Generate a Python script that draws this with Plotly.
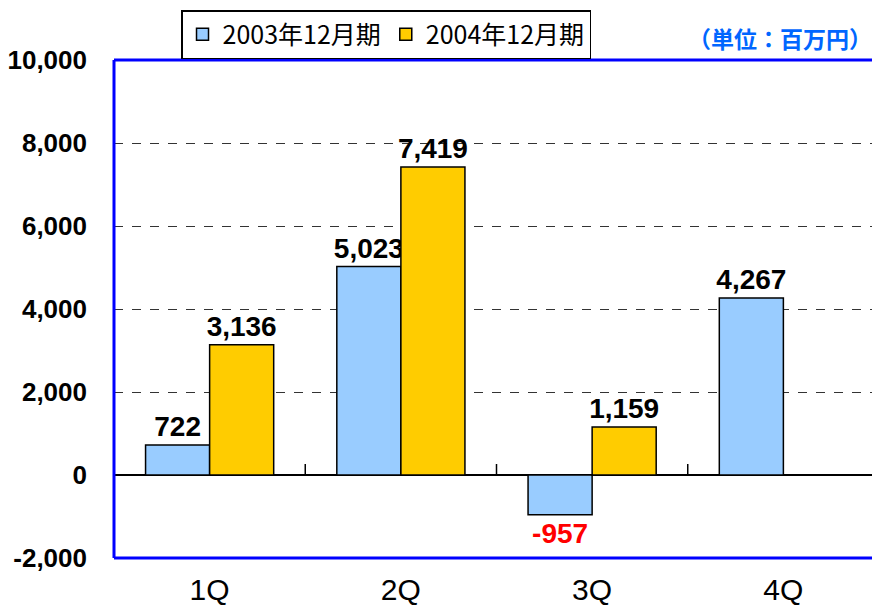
import plotly.graph_objects as go

categories = ["1Q", "2Q", "3Q", "4Q"]
series_names = ["2003年12月期", "2004年12月期"]
values_2003 = [722, 5023, -957, 4267]
values_2004 = [3136, 7419, 1159, None]
colors = ["#99CCFF", "#FFCC00"]
y_ticks = [-2000, 0, 2000, 4000, 6000, 8000, 10000]
unit_label = "（単位：百万円）"

NARROW = "Liberation Sans Narrow, Arial Narrow, Liberation Sans, Arial"
JP = "Noto Sans CJK JP, sans-serif"

def fmt(v):
    return "" if v is None else f"{v:,}"

def label_colors(vals):
    return ["#FF0000" if (v is not None and v < 0) else "#000000" for v in vals]

fig = go.Figure()
for name, vals, col in [(series_names[0], values_2003, colors[0]),
                        (series_names[1], values_2004, colors[1])]:
    fig.add_trace(go.Bar(
        x=categories, y=vals, name=name,
        marker=dict(color=col, line=dict(color="#000000", width=1.5)),
        text=[fmt(v) for v in vals],
        textposition="outside",
        constraintext="none",
        textfont=dict(family=NARROW, size=28, color=label_colors(vals), weight="bold"),
        cliponaxis=False,
    ))

shapes = []
# plot frame
shapes.append(dict(type="line", xref="paper", yref="paper", x0=0, x1=0, y0=0, y1=1,
                   line=dict(color="#0000FF", width=3)))
shapes.append(dict(type="line", xref="paper", yref="paper", x0=0, x1=1, y0=1, y1=1,
                   line=dict(color="#0000FF", width=3)))
shapes.append(dict(type="line", xref="paper", yref="paper", x0=0, x1=1, y0=0, y1=0,
                   line=dict(color="#0000FF", width=3)))
shapes.append(dict(type="line", xref="paper", yref="paper", x0=1, x1=1, y0=0, y1=1,
                   line=dict(color="#6666FF", width=1)))
# category separator ticks on zero line
for i in range(len(categories) - 1):
    shapes.append(dict(type="line", xref="x", yref="y", x0=i + 0.5, x1=i + 0.5,
                       ysizemode="pixel", yanchor=0, y0=0, y1=11,
                       line=dict(color="#000000", width=1.5)))

fig.update_layout(
    width=872, height=599,
    margin=dict(l=106, r=1, t=52, b=49, autoexpand=False),
    paper_bgcolor="white", plot_bgcolor="white",
    barmode="group", bargap=0.33, bargroupgap=0,
    showlegend=True,
    legend=dict(orientation="h", x=0.0876, xanchor="left", y=1.1004, yanchor="top",
                bordercolor="#000000", borderwidth=1.5,
                font=dict(family=JP, size=25, color="#000000"),
                itemclick=False, tracegroupgap=0),
    shapes=shapes,
    annotations=[dict(text=unit_label, xref="paper", yref="paper", x=0.993, y=1.044,
                      xanchor="right", yanchor="middle", showarrow=False,
                      font=dict(family=JP, size=23, color="#0066FF", weight="bold"))],
    xaxis=dict(showgrid=False, showline=False, ticks="", automargin=False,
               tickfont=dict(family="Liberation Sans, Arial", size=30, color="#000000"),
               ticklabelstandoff=11),
    yaxis=dict(range=[-2000, 10000], tickvals=y_ticks, automargin=False,
               ticktext=[f"{v:,}" for v in y_ticks],
               showgrid=True, gridcolor="#333333", gridwidth=1, griddash="dash",
               zeroline=True, zerolinecolor="#000000", zerolinewidth=1.5,
               showline=False, ticks="",
               tickfont=dict(family=NARROW, size=26, color="#000000", weight="bold"),
               ticklabelstandoff=26),
)

fig.write_html("out.html")
